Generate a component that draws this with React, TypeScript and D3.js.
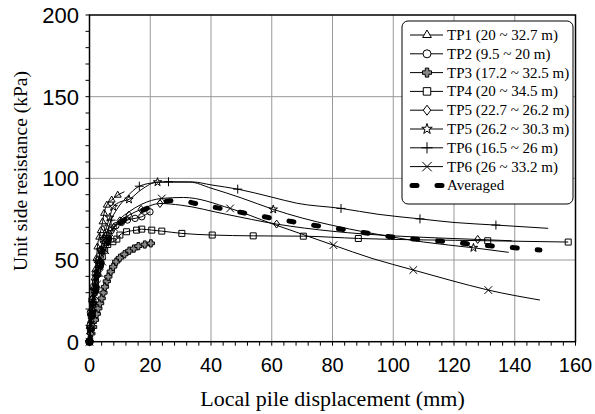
import React from "react";
import * as d3 from "d3";

type P = [number, number, number?];

const xTicks = [0, 20, 40, 60, 80, 100, 120, 140, 160];
const yTicks = [0, 50, 100, 150, 200];

const tp1: P[] = [[0,0,1],[0.2,6,1],[0.5,13,1],[0.8,20,1],[1.1,27,1],[1.4,33,1],[1.7,39,1],[1.9,44,1],[2.3,51,1],[2.6,58,1],[3.2,64,1],[3.7,68,1],[4.3,73.4,1],[4.8,78.6,1],[5.7,83.6,1],[7.3,86.7,1],[9.3,89.7,1],[11.5,91.8,0]];
const tp2: P[] = [[0,0,1],[0.2,10,1],[0.3,18,1],[0.8,26,1],[1.4,34,1],[2.1,42,1],[2.9,50,1],[3.7,56,1],[4.5,62,1],[5.5,65,1],[7.1,68,1],[8.7,71,1],[10.5,73,1],[12.5,74.5,1],[15,75.5,1],[17.2,76.5,1],[19.9,79.5,1]];
const tp3: P[] = [[0,0,1],[0.6,5,1],[1.2,9,1],[1.8,13.3,1],[2.4,17,1],[2.9,20.4,1],[3.5,23.5,1],[4,26.5,1],[4.6,30,1],[5.1,33.6,1],[5.7,37,1],[6.2,39.8,1],[7,43,1],[7.8,45.9,1],[8.8,49,1],[10,51.4,1],[11.5,53.5,1],[13.1,55.7,1],[14.6,57,1],[16.1,58.5,1],[18.2,59.5,1],[20.2,60.2,1]];
const tp4: P[] = [[0,0,1],[0.3,8,1],[0.6,16,1],[1,23,1],[1.5,30,1],[2,36,1],[2.7,42,1],[3.4,47,1],[4.2,52,1],[5,56,1],[6,59.5,1],[7.7,61.2,1],[9,62.8,1],[10,65.3,1],[12.2,67.3,1],[15.5,68.3,1],[17.2,68.9,1],[20.5,68.3,1],[23.8,67.7,1],[30.4,66.3,1],[40.4,65.3,1],[53.9,64.8,1],[70.4,64.6,1],[88.5,63.2,1],[131.1,61.8,1],[157.6,61,1]];
const tp5a: P[] = [[0,0,1],[0.3,8,1],[0.7,16,1],[1.2,24,1],[1.8,32,1],[2.5,40,1],[3.3,48,1],[4.2,55,1],[5.3,61,1],[6.5,66,1],[8,70,1],[10,74,1],[13,77.5,1],[17,81,1],[23.2,84.6,1],[30,83.6,0],[45,78,0],[61.6,72,1],[80,67.6,0],[100,64.8,0],[115,63.5,0],[127.8,62.6,1],[139,61.8,0]];
const tp5b: P[] = [[0,0,1],[0.3,8,1],[0.6,16,1],[1,24,1],[1.5,32,1],[2.1,40,1],[2.8,48,1],[3.6,56,1],[4.5,63,1],[5.6,70,1],[6.6,76,1],[7.8,82.6,1],[10,85.5,0],[13,87.1,1],[17,93,0],[22.4,97.7,1],[33,97.7,0],[40,94,0],[50,88,0],[60.5,81,1],[70,75.7,0],[80,71.2,0],[91,67,0],[100,64,0],[110,61,0],[126.4,57.5,1],[138,54.7,0]];
const tp6a: P[] = [[0,0,1],[0.3,8,1],[0.7,16,1],[1.2,24,1],[1.8,32,1],[2.5,40,1],[3.3,48,1],[4.2,56,1],[5.5,65,1],[7.1,74.4,1],[9,81,0],[12,88,0],[16.4,95.2,1],[22,97.5,0],[26,97.9,1],[34,97.8,0],[40,96,0],[48.8,93.4,1],[60,88.5,0],[68.2,84.8,0],[82.8,81.6,1],[95,78,0],[108.8,75.2,1],[120,73,0],[133.8,71.4,1],[151,69.4,0]];
const tp6b: P[] = [[0,0,1],[0.3,7,1],[0.7,14,1],[1.2,21,1],[1.8,28,1],[2.5,35,1],[3.3,42,1],[4.2,49,1],[5.2,56,1],[6.5,63,1],[8,70,1],[10,75,0],[13,79.5,0],[17,84,0],[23.8,87.7,1],[31,88.3,0],[46.3,81.6,1],[60,72.3,0],[70,65.8,0],[80.3,59.1,1],[93,51,0],[106.6,43.9,1],[119,37.5,0],[131.3,31.6,1],[148.3,25.5,0]];
const averaged: P[] = [[0,0],[1,14],[2,27],[3,38],[4,47],[5,54],[6,60],[8,67.5],[10,72],[13,76.5],[17.6,80.5],[22,84],[26.5,86.3],[30,86.5],[34.5,84.8],[42.6,81.8],[50.6,78.9],[58.9,76],[67,73.4],[74.8,71],[83,68.9],[91.2,66.5],[98.9,64.3],[107.2,62.8],[115.4,61.6],[123,60.2],[131.8,58.7],[140,57.5],[148.3,56.1]];

const labels = ["TP1 (20 ~ 32.7 m)","TP2 (9.5 ~ 20 m)","TP3 (17.2 ~ 32.5 m)","TP4 (20 ~ 34.5 m)","TP5 (22.7 ~ 26.2 m)","TP5 (26.2 ~ 30.3 m)","TP6 (16.5 ~ 26 m)","TP6 (26 ~ 33.2 m)","Averaged"];
const seriesData = [tp1, tp2, tp3, tp4, tp5a, tp5b, tp6a, tp6b];
const markerKinds = ["tri","circle","thickcross","square","diamond","star","plus","x"];

function markerPath(kind: string, s: number): string {
  switch (kind) {
    case "tri": { const r = 4 * s; return `M0,${-r}L${r*0.87},${r*0.5}L${-r*0.87},${r*0.5}Z`; }
    case "circle": { const r = 3.2 * s; return `M${r},0A${r},${r} 0 1,1 ${-r},0A${r},${r} 0 1,1 ${r},0Z`; }
    case "square": { const h = 3 * s; return `M${-h},${-h}H${h}V${h}H${-h}Z`; }
    case "diamond": { const a = 4 * s, b = 3 * s; return `M0,${-a}L${b},0L0,${a}L${-b},0Z`; }
    case "thickcross": { const w = 1.4 * s, l = 3.6 * s; return `M${-w},${-l}H${w}V${-w}H${l}V${w}H${w}V${l}H${-w}V${w}H${-l}V${-w}H${-w}Z`; }
    case "star": return d3.symbol(d3.symbolStar, 22 * s * s)() as string;
    case "plus": { const r = 4.5 * s; return `M${-r},0H${r}M0,${-r}V${r}`; }
    case "x": { const r = 3.8 * s; return `M${-r},${-r}L${r},${r}M${-r},${r}L${r},${-r}`; }
  }
  return "";
}
function markerFill(kind: string) {
  if (kind === "thickcross") return "#888";
  return "none";
}

export default function App() {
  const W = 595, H = 414;
  const x = d3.scaleLinear().domain([0, 160]).range([89.5, 575.5]);
  const y = d3.scaleLinear().domain([0, 200]).range([341.7, 15]);
  const line = d3.line<P>().x(d => x(d[0])).y(d => y(d[1])).curve(d3.curveMonotoneX);
  const xMinor = d3.range(0, 161, 4);
  const yMinor = d3.range(0, 201, 10);
  const serif = "'Liberation Serif', 'Times New Roman', serif";
  const sans = "'Liberation Sans', Arial, sans-serif";
  const lgX = 402, lgY = 21, lgW = 171, lgH = 183, rowY0 = 35, rowDy = 18.8;
  return (
    <svg width={W} height={H} style={{ position: "absolute", left: 0, top: 0, background: "#fff" }}>
      <rect x={0} y={0} width={W} height={H} fill="#fff" />
      {xTicks.slice(1, -1).map(t => (
        <line key={"gx"+t} x1={x(t)} x2={x(t)} y1={y(0)} y2={y(200)} stroke="#999" strokeWidth={1} />
      ))}
      {yTicks.slice(1, -1).map(t => (
        <line key={"gy"+t} x1={x(0)} x2={x(160)} y1={y(t)} y2={y(t)} stroke="#999" strokeWidth={1} />
      ))}
      {seriesData.map((s, i) => (
        <g key={"s"+i}>
          <path d={line(s) as string} fill="none" stroke="#000" strokeWidth={1} />
          {s.filter(p => p[2]).map((p, j) => (
            <path key={j} d={markerPath(markerKinds[i], 1)} transform={`translate(${x(p[0])},${y(p[1])})`} fill={markerFill(markerKinds[i])} stroke="#000" strokeWidth={1} />
          ))}
        </g>
      ))}
      <path d={line(averaged) as string} fill="none" stroke="#000" strokeWidth={5} strokeDasharray="5 20" strokeLinecap="round" />
      <rect x={x(0)} y={y(200)} width={x(160)-x(0)} height={y(0)-y(200)} fill="none" stroke="#000" strokeWidth={1.5} />
      {xMinor.map(t => (
        <line key={"xt"+t} x1={x(t)} x2={x(t)} y1={y(0)} y2={y(0)+4} stroke="#000" strokeWidth={1} />
      ))}
      {yMinor.map(t => (
        <line key={"yt"+t} x1={x(0)-4} x2={x(0)} y1={y(t)} y2={y(t)} stroke="#000" strokeWidth={1} />
      ))}
      {xTicks.map(t => (
        <text key={"xl"+t} x={x(t)} y={372} textAnchor="middle" fontFamily={sans} fontSize={20}>{t}</text>
      ))}
      {yTicks.map(t => (
        <text key={"yl"+t} x={79} y={y(t)} dy="0.36em" textAnchor="end" fontFamily={sans} fontSize={22}>{t}</text>
      ))}
      <text x={(x(0)+x(160))/2} y={406} textAnchor="middle" fontFamily={serif} fontSize={22}>Local pile displacement (mm)</text>
      <text transform="translate(26.5,171) rotate(-90)" textAnchor="middle" fontFamily={serif} fontSize={19.5}>Unit side resistance (kPa)</text>
      <rect x={lgX} y={lgY} width={lgW} height={lgH} rx={6} fill="#fff" stroke="#000" strokeWidth={1} />
      {labels.map((lab, i) => {
        const ly = rowY0 + i * rowDy;
        const isAvg = i === 8;
        return (
          <g key={"lg"+i}>
            {isAvg ? (
              <line x1={412} x2={443} y1={ly} y2={ly} stroke="#000" strokeWidth={5} strokeDasharray="5 20" strokeLinecap="round" />
            ) : (
              <>
                <line x1={410} x2={443} y1={ly} y2={ly} stroke="#000" strokeWidth={1} />
                <path d={markerPath(markerKinds[i], 1.25)} transform={`translate(427,${ly})`} fill={markerKinds[i] === "thickcross" ? "#888" : "#fff"} stroke="#000" strokeWidth={1} />
              </>
            )}
            <text x={447} y={ly} dy="0.33em" fontFamily={serif} fontSize={15}>{lab}</text>
          </g>
        );
      })}
    </svg>
  );
}
